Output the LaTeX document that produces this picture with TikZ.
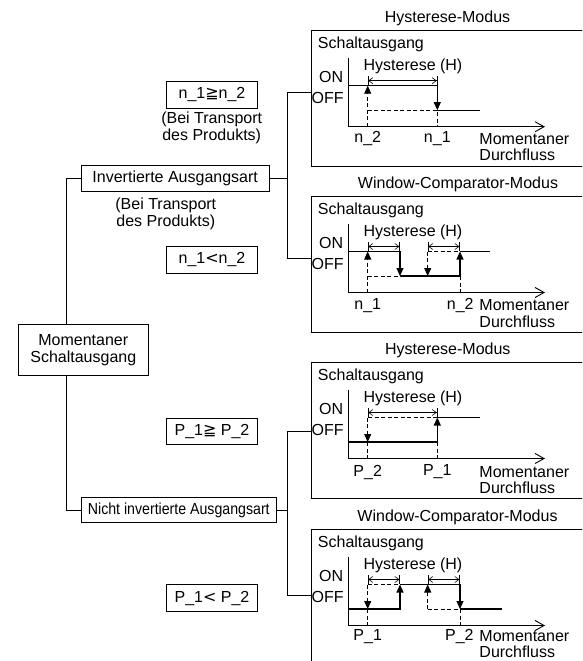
\documentclass[tikz,border=0pt]{standalone}
\usepackage{graphicx}
\usepackage{fontspec}
\setmainfont{Liberation Sans}
\newfontfamily\symfont{DejaVu Sans}
\usetikzlibrary{arrows.meta}
\newcommand\lblsize{\fontsize{16}{16.5}\selectfont}
% frame of one panel, origin on the flow axis
\newcommand\panelframe[5]{%
  \draw[panel] (311,-96) rectangle (600,39.5);
  \node[lbl] (#1-title) at (#3,-108) {#2};
  \node[lbl,anchor=west] (#1-sa) at (317.5,-82) {Schaltausgang};
  \node[lbl,anchor=east] (#1-on) at (343.5,-49.5) {ON};
  \node[lbl,anchor=east] (#1-off) at (344,-29) {OFF};
  \node[lbl] (#1-h) at (413,-60) {Hysterese (H)};
  \draw[axis] (348,-69) |- (545,0);
  \node[lbl,anchor=west] (#1-mom) at (479,#4) {Momentaner};
  \node[lbl,anchor=west] (#1-df) at (479,#5) {Durchfluss};
}
\begin{document}
\begin{tikzpicture}[x=1pt,y=-1pt,line width=0.9pt]
\tikzset{lbl/.style={inner sep=0pt,font=\lblsize}}
\tikzset{box/.style={draw,inner sep=0pt,font=\lblsize,align=center}}
\tikzset{cond/.style={box,minimum width=91pt,minimum height=26.5pt}}
\tikzset{panel/.style={draw}}
\tikzset{axis/.style={-{Straight Barb[length=9pt,width=10pt]}}}
\tikzset{sig/.style={line width=1.1pt}}
\tikzset{tr/.style={-{Triangle[length=8pt,width=7pt]}}}
\tikzset{dsh/.style={dash pattern=on 4pt off 2.5pt}}
\tikzset{hys/.style={line width=0.6pt,{Bar[width=9pt]Straight Barb[length=4pt,width=6pt]}-{Straight Barb[length=4pt,width=6pt]Bar[width=9pt]}}}
\useasboundingbox (0,0) rectangle (582,661);
\clip (0,0) rectangle (582,661);
% left tree
\node[box,minimum width=130pt,minimum height=51.7pt] (mom) at (83.3,350) {Momentaner\\Schaltausgang};
\node[box,minimum width=188.3pt,minimum height=26pt] (inv) at (175.2,178.7) {Invertierte Ausgangsart};
\node[box,minimum width=195.7pt,minimum height=25.4pt] (ninv) at (178.8,510) {\scalebox{0.885}[1]{Nicht invertierte Ausgangsart}};
\node[cond] (c1) at (212,95) {n\_1{\symfont ≧}n\_2};
\node[lbl,align=center] (t1) at (211.7,128) {(Bei Transport\\des Produkts)};
\node[lbl,align=center] (t2) at (165.8,213.7) {(Bei Transport\\des Produkts)};
\node[cond] (c2) at (212,259.7) {n\_1{\symfont <}n\_2};
\node[cond] (c3) at (212,431.3) {P\_1{\symfont ≧} P\_2};
\node[cond] (c4) at (212,598) {P\_1{\symfont <} P\_2};
\draw ([xshift=-16.8pt]mom.north) |- (inv.west);
\draw ([xshift=-16.8pt]mom.south) |- (ninv.west);
\coordinate (p1in) at (311,92);
\coordinate (p2in) at (311,258.5);
\coordinate (p3in) at (311,431);
\coordinate (p4in) at (311,595.3);
\draw (inv.east) -- ++(18,0) coordinate (j1);
\draw (p1in) -| (j1) |- (p2in);
\draw (ninv.east) -- ++(10.7,0) coordinate (j2);
\draw (p3in) -| (j2) |- (p4in);
% inverted, hysteresis
\begin{scope}[shift={(0,126.7)}]
\panelframe{hm1}{Hysterese-Modus}{447.5}{12}{28}
\draw[sig,tr] (348,-41) -| (437.3,-16.5);
\draw[sig] (437.3,-16.5) -- (480,-16.5);
\draw[dsh,tr] (367.7,0) -- (367.7,-41);
\draw[dsh] (367.7,-16.5) -| (437.3,0);
\draw[hys] (367.7,-46) -- (437.3,-46);
\node[lbl] (n2a) at (367.7,12) {n\_2};
\node[lbl] (n1a) at (437.3,12) {n\_1};
\end{scope}
% inverted, window comparator
\begin{scope}[shift={(0,292.5)}]
\panelframe{wm1}{Window-Comparator-Modus}{458}{13}{29}
\draw[sig,tr] (348,-41) -| (400,-16.5);
\draw[sig,tr] (400,-16.5) -| (460,-41);
\draw[sig] (460,-41) -- (490,-41);
\draw[dsh,tr] (367.7,0) -- (367.7,-41);
\draw[dsh] (367.7,-16.5) -- (400,-16.5);
\draw[dsh,tr] (427.7,-41) -- (427.7,-16.5);
\draw[dsh] (427.7,-41) -- (460,-41);
\draw[dsh] (460,-16.5) -- (460,0);
\draw[hys] (367.7,-46) -- (400,-46);
\draw[hys] (427.7,-46) -- (460,-46);
\node[lbl] (n1b) at (367.7,13) {n\_1};
\node[lbl,anchor=east] (n2b) at (474,13) {n\_2};
\end{scope}
% not inverted, hysteresis
\begin{scope}[shift={(0,458.5)}]
\panelframe{hm2}{Hysterese-Modus}{447.8}{13.5}{29.5}
\draw[sig,tr] (348,-16.5) -| (437.3,-41);
\draw[sig] (437.3,-41) -- (480,-41);
\draw[dsh] (437.3,-41) -- (367.7,-41);
\draw[dsh,tr] (367.7,-41) -- (367.7,-16.5);
\draw[dsh] (367.7,-16.5) -- (367.7,0);
\draw[dsh] (437.3,-16.5) -- (437.3,0);
\draw[hys] (367.7,-46) -- (437.3,-46);
\node[lbl] (p2a) at (367.7,13.5) {P\_2};
\node[lbl] (p1a) at (437.3,13.5) {P\_1};
\end{scope}
% not inverted, window comparator
\begin{scope}[shift={(0,625.5)}]
\panelframe{wm2}{Window-Comparator-Modus}{457.5}{11}{26.5}
\draw[sig,tr] (348,-16.5) -| (400,-41);
\draw[sig,tr] (400,-41) -| (460,-16.5);
\draw[sig] (460,-16.5) -- (501.7,-16.5);
\draw[dsh,tr] (367.7,-41) -- (367.7,-16.5);
\draw[dsh] (367.7,-41) -- (400,-41);
\draw[dsh] (367.7,-16.5) -- (367.7,0);
\draw[dsh,tr] (427.7,-16.5) -- (427.7,-41);
\draw[dsh] (427.7,-16.5) -- (460,-16.5);
\draw[dsh] (460,-16.5) -- (460,0);
\draw[hys] (367.7,-46) -- (400,-46);
\draw[hys] (427.7,-46) -- (460,-46);
\node[lbl] (p1b) at (367.7,11) {P\_1};
\node[lbl,anchor=east] (p2b) at (474,11) {P\_2};
\end{scope}
\end{tikzpicture}
\end{document}
